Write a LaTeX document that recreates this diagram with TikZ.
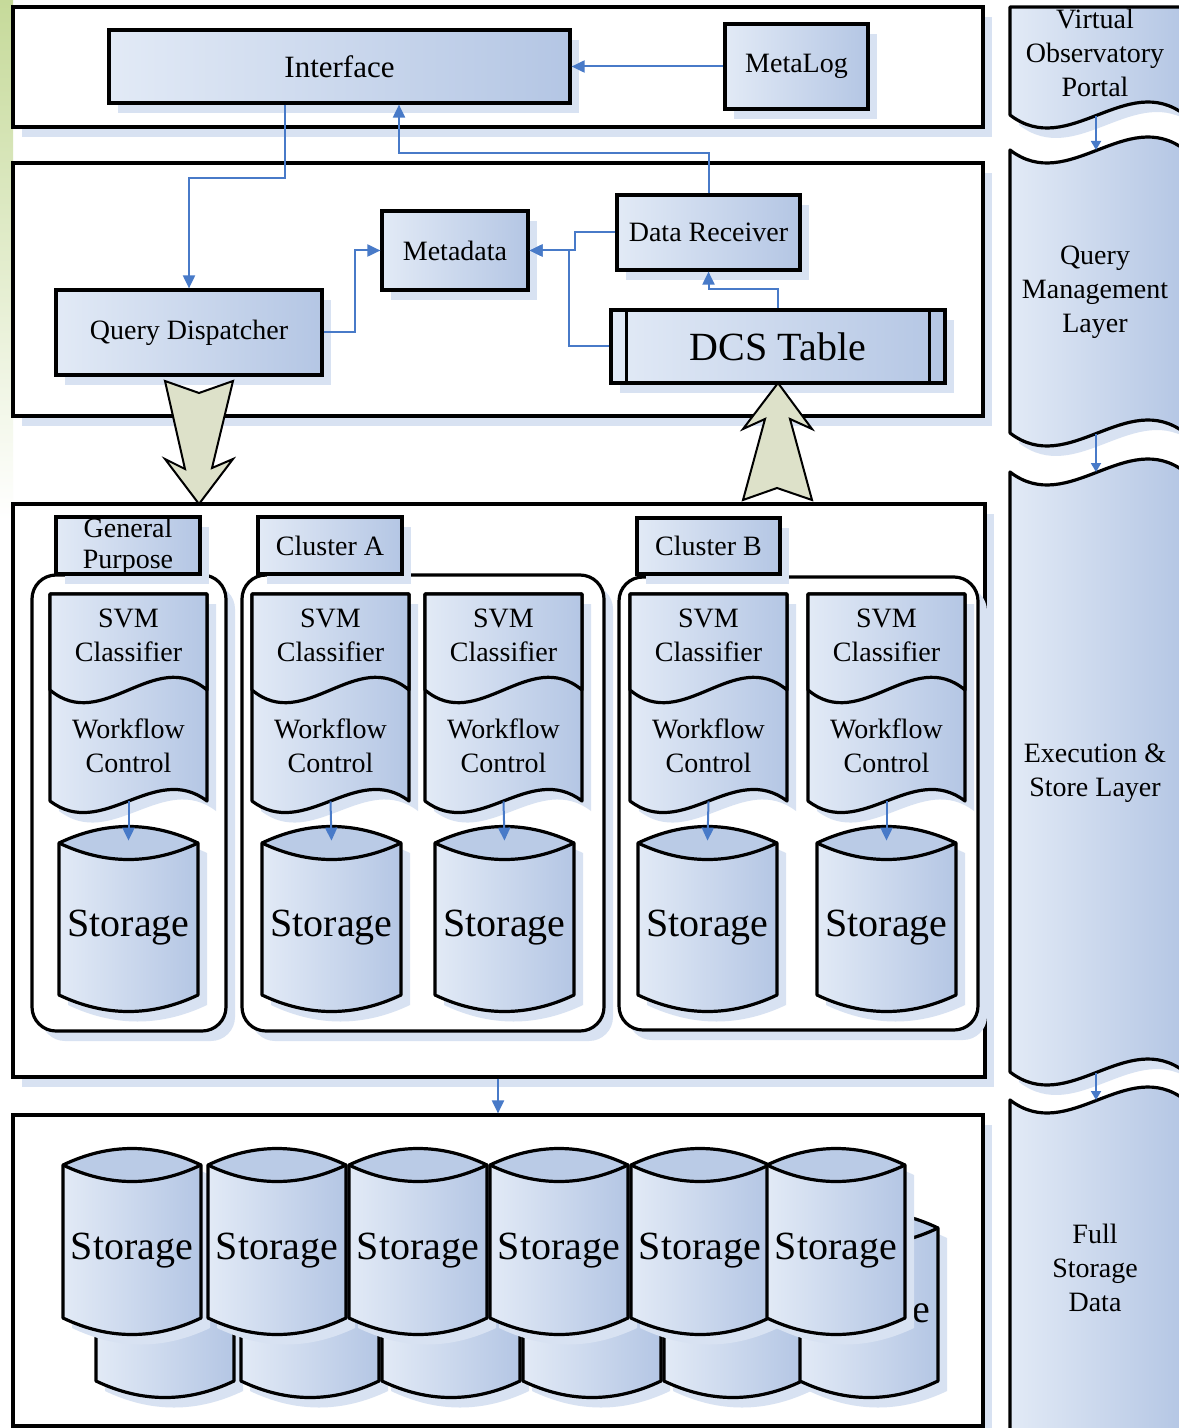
\documentclass[tikz,border=0pt]{standalone}
\usepackage{fontspec}
\setmainfont{Liberation Serif}
\usetikzlibrary{arrows.meta,shadows,fit,calc}

\definecolor{fillA}{RGB}{226,234,246}
\definecolor{fillB}{RGB}{180,198,228}
\definecolor{lensc}{RGB}{186,203,230}
\definecolor{shadowc}{RGB}{216,226,242}
\definecolor{linkc}{RGB}{72,122,200}
\definecolor{blockc}{RGB}{221,225,201}
\definecolor{leafc}{RGB}{198,218,154}

\tikzset{
  softshadow/.style={drop shadow={shadow xshift=4.5pt,shadow yshift=-5pt,fill=shadowc,opacity=1}},
  shapefill/.style={left color=fillA,right color=fillB},
  outline/.style={draw=black,line width=1.6pt,line join=round},
  panel/.style={draw=black,line width=1.6pt,fill=white,softshadow,inner sep=0pt},
  box/.style={draw=black,line width=1.6pt,shapefill,softshadow,inner sep=0pt},
  container/.style={draw=black,line width=1.6pt,fill=white,rounded corners=12pt,softshadow,inner sep=0pt},
  txt/.style={inner sep=0pt,align=center,font=\fontsize{14}{17}\selectfont},
  bigtxt/.style={inner sep=0pt,align=center,font=\fontsize{20}{24}\selectfont},
  link/.style={draw=linkc,line width=1pt,-{Triangle[length=6.5pt,width=6pt]}},
  smalllink/.style={draw=linkc,line width=0.9pt,-{Triangle[length=4.5pt,width=5pt]}},
  blockarrow/.style={draw=black,line width=1pt,fill=blockc,line join=miter},
}

% storage drum: name, left x, y of the upper corners, width, body height
\newcommand\storagecyl[5]{%
  \pgfmathsetmacro\cyR{#2+#4}%
  \pgfmathsetmacro\cyA{#2+#4/3}%
  \pgfmathsetmacro\cyC{#2+2*#4/3}%
  \pgfmathsetmacro\cyX{#2+#4/2}%
  \pgfmathsetmacro\cyB{#3+#5}%
  \pgfmathsetmacro\cyUp{#3-22}%
  \pgfmathsetmacro\cyDn{#3+22}%
  \pgfmathsetmacro\cyBd{#3+#5+22}%
  \pgfmathsetmacro\cyTop{#3-2}%
  \pgfmathsetmacro\cyBot{#3+#5+8}%
  \pgfmathsetmacro\cyMid{#3+#5/2+9}%
  \path[shapefill,softshadow] (#2,#3) -- (#2,\cyB) .. controls (\cyA,\cyBd) and (\cyC,\cyBd) .. (\cyR,\cyB) -- (\cyR,#3) .. controls (\cyC,\cyUp) and (\cyA,\cyUp) .. cycle;
  \fill[lensc] (#2,#3) .. controls (\cyA,\cyUp) and (\cyC,\cyUp) .. (\cyR,#3) .. controls (\cyC,\cyDn) and (\cyA,\cyDn) .. cycle;
  \node[inner sep=0pt,fit={(#2,\cyTop) (\cyR,\cyBot)}] (#1) {};
  \node[bigtxt] (#1t) at (\cyX,\cyMid) {Storage};
  \draw[outline] (#2,#3) -- (#2,\cyB) .. controls (\cyA,\cyBd) and (\cyC,\cyBd) .. (\cyR,\cyB) -- (\cyR,#3) .. controls (\cyC,\cyUp) and (\cyA,\cyUp) .. cycle;
  \draw[outline] (#2,#3) .. controls (\cyA,\cyDn) and (\cyC,\cyDn) .. (\cyR,#3);
}

% two stacked document sheets: name, left x, width, top y, divider y, bottom y
\newcommand\docpair[6]{%
  \pgfmathsetmacro\dcR{#2+#3}%
  \pgfmathsetmacro\dcA{#2+#3/3}%
  \pgfmathsetmacro\dcC{#2+2*#3/3}%
  \pgfmathsetmacro\dcX{#2+#3/2}%
  \pgfmathsetmacro\dcBd{#6+40}\pgfmathsetmacro\dcBu{#6-40}%
  \pgfmathsetmacro\dcVd{#5+44}\pgfmathsetmacro\dcVu{#5-44}%
  \pgfmathsetmacro\dcU{(#4+#5)/2-7}%
  \pgfmathsetmacro\dcL{(#5+#6)/2}%
  \path[shapefill,softshadow,outline] (#2,#4) -- (#2,#6) .. controls (\dcA,\dcBd) and (\dcC,\dcBu) .. (\dcR,#6) -- (\dcR,#4) -- cycle;
  \path[shapefill,outline] (#2,#4) -- (#2,#5) .. controls (\dcA,\dcVd) and (\dcC,\dcVu) .. (\dcR,#5) -- (\dcR,#4) -- cycle;
  \node[txt] (#1u) at (\dcX,\dcU) {SVM\\Classifier};
  \node[txt] (#1l) at (\dcX,\dcL) {Workflow\\Control};
  \node[inner sep=0pt,fit={(#2,#4) (\dcR,#6)}] (#1) {};
}

\begin{document}
\begin{tikzpicture}[x=0.5pt,y=-0.5pt]
\useasboundingbox (0,0) rectangle (1178,1428);
\fill[white] (0,0) rectangle (1178,1428);
\shade[top color=leafc,bottom color=white] (0,0) rectangle (13,520);

% ---------- layer banners ----------
\path[shapefill,softshadow,outline] (1010,7) -- (1010,115) .. controls (1068.3,160) and (1126.7,70) .. (1185,115) -- (1185,7) -- cycle;
\path[shapefill,softshadow,outline] (1010,150) -- (1010,433) .. controls (1068.3,478) and (1126.7,388) .. (1185,433) -- (1185,150) .. controls (1126.7,105) and (1068.3,195) .. cycle;
\path[shapefill,softshadow,outline] (1010,472) -- (1010,1072) .. controls (1068.3,1117) and (1126.7,1027) .. (1185,1072) -- (1185,472) .. controls (1126.7,427) and (1068.3,517) .. cycle;
\path[shapefill,softshadow,outline] (1010,1100) -- (1010,1440) -- (1185,1440) -- (1185,1100) .. controls (1126.7,1055) and (1068.3,1145) .. cycle;
\begin{scope}
  \clip (1010,8) rectangle (1185,130);
  \node[txt] (vop) at (1095,53) {Virtual\\Observatory\\Portal};
\end{scope}
\node[txt] (qml) at (1095,292) {Query\\Management\\Layer};
\node[txt] (esl) at (1095,773) {Execution \&\\Store Layer};
\node[txt] (fsd) at (1095,1268) {Full\\Storage\\Data};
\coordinate (v1) at (1096,116);
\coordinate (v2) at (1096,150);
\coordinate (v3) at (1096,434);
\coordinate (v4) at (1096,472);
\coordinate (v5) at (1096,1073);
\coordinate (v6) at (1096,1100);
\draw[smalllink] (v1) -- (v2);
\draw[smalllink] (v3) -- (v4);
\draw[smalllink] (v5) -- (v6);

% ---------- panels ----------
\node[panel,fit={(13,7) (983,127)}] (p1) {};
\node[panel,fit={(13,163) (983,416)}] (p2) {};
\node[panel,fit={(13,504) (985,1077)}] (p3) {};
\node[panel,fit={(13,1115) (983,1426)}] (p4) {};

% ---------- portal and query management ----------
\node[box,fit={(109,30) (570,103)}] (iface) {};
\node[txt,font=\fontsize{15.5}{18}\selectfont] (ifacet) at (iface.center) {Interface};
\node[box,fit={(725,24) (868,109)}] (ml) {};
\node[txt] (mlt) at (ml.center) {MetaLog};
\node[box,fit={(382,211) (528,290)}] (meta) {};
\node[txt] (metat) at (meta.center) {Metadata};
\node[box,fit={(617,195) (800,270)}] (dr) {};
\node[txt] (drt) at (dr.center) {Data Receiver};
\node[box,fit={(56,290) (322,375)}] (qd) {};
\node[txt] (qdt) at (qd.center) {Query Dispatcher};
\node[box,fit={(611,310) (945,383)}] (dcs) {};
\node[bigtxt] (dcst) at (dcs.center) {DCS Table};
\draw[outline] ($(dcs.north west)+(17,0)$) -- ($(dcs.south west)+(17,0)$);
\draw[outline] ($(dcs.north east)+(-17,0)$) -- ($(dcs.south east)+(-17,0)$);

\coordinate (j1) at (285,178);
\coordinate (j2) at (355,300);
\coordinate (j3) at (575,240);
\coordinate (j4) at (569,300);
\coordinate (j5) at (399,153);
\coordinate (j6) at (778,289);
\coordinate (j7) at (498,1090);

\draw[link] (ml.west) -- (iface.east);
\draw[link] (iface.south -| j1) -- (j1) -| (qd.north);
\draw[link] (qd.east) -- (qd.east -| j2) |- (meta.west);
\draw[link] (dr.west) -- (dr.west -| j3) |- (meta.east);
\draw[link] (dcs.west) -- (dcs.west -| j4) |- (meta.east);
\draw[link] (dr.north) |- (j5) -- (j5 |- iface.south);
\draw[link] (dcs.north) -- (j6) -| (dr.south);

% ---------- dispatch / collect block arrows ----------
\path[blockarrow] (165,381) -- (199,393) -- (233,381) -- (212,468) -- (233,459) -- (199,504) -- (165,459) -- (185,469) -- cycle;
\path[blockarrow] (778,383) -- (812,429) -- (790,419) -- (812,500) -- (777,488) -- (743,500) -- (765,419) -- (743,429) -- cycle;

% ---------- execution & store layer ----------
\node[container,fit={(32,575) (226,1031)}] (gpbox) {};
\node[container,fit={(242,575) (604,1031)}] (abox) {};
\node[container,fit={(619,577) (978,1030)}] (bbox) {};

\node[box,fit={(56,517) (200,574)}] (gplabel) {};
\begin{scope}
  \clip (56,518) rectangle (200,573);
  \node[txt,font=\fontsize{14}{15.5}\selectfont] (gptext) at (128,546) {General\\Purpose};
\end{scope}
\node[box,fit={(258,517) (402,574)}] (alabel) {};
\node[txt] (alabelt) at (alabel.center) {Cluster A};
\node[box,fit={(637,518) (780,574)}] (blabel) {};
\node[txt] (blabelt) at (blabel.center) {Cluster B};

\docpair{gpdoc}{50}{157}{594}{690}{801}
\docpair{aodoc}{252}{157}{594}{690}{801}
\docpair{atdoc}{425}{157}{594}{690}{801}
\docpair{bodoc}{630}{157}{594}{690}{801}
\docpair{btdoc}{808}{157}{594}{690}{801}

\storagecyl{gpst}{59}{843}{139}{152}
\storagecyl{aost}{262}{843}{139}{152}
\storagecyl{atst}{435}{843}{139}{152}
\storagecyl{bost}{638}{843}{139}{152}
\storagecyl{btst}{817}{843}{139}{152}

\draw[link] (gpdoc.south) -- (gpst.north);
\draw[link] (aodoc.south) -- (aost.north);
\draw[link] (atdoc.south) -- (atst.north);
\draw[link] (bodoc.south) -- (bost.north);
\draw[link] (btdoc.south) -- (btst.north);

% ---------- full storage ----------
\storagecyl{r1}{96}{1228}{138}{153}
\storagecyl{r2}{241}{1228}{138}{153}
\storagecyl{r3}{382}{1228}{138}{153}
\storagecyl{r4}{523}{1228}{138}{153}
\storagecyl{r5}{664}{1228}{138}{153}
\storagecyl{r6}{800}{1228}{138}{153}
\storagecyl{f1}{63}{1165}{138}{153}
\storagecyl{f2}{208}{1165}{138}{153}
\storagecyl{f3}{349}{1165}{138}{153}
\storagecyl{f4}{490}{1165}{138}{153}
\storagecyl{f5}{631}{1165}{138}{153}
\storagecyl{f6}{767}{1165}{138}{153}

\draw[link] (p3.south -| j7) -- (p4.north -| j7);
\end{tikzpicture}
\end{document}
